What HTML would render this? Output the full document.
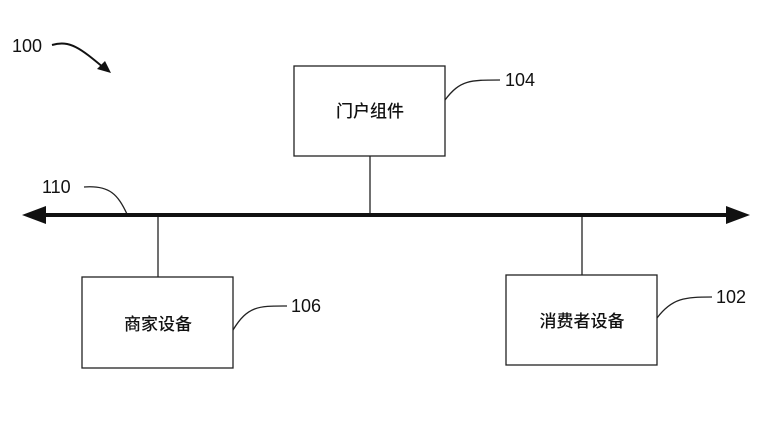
<!DOCTYPE html>
<html><head><meta charset="utf-8"><style>
html,body{margin:0;padding:0;background:#fff;}
svg{display:block;}
text{font-family:"Liberation Sans",sans-serif;fill:#111;}
.c{font-family:"Liberation Sans","Noto Sans CJK SC",sans-serif;font-size:17px;font-weight:500;}
</style></head><body>
<svg width="774" height="426" viewBox="0 0 774 426">
<g stroke="#222" fill="none" stroke-width="1.3">
<rect x="294" y="66" width="151" height="90"/>
<rect x="82" y="277" width="151" height="91"/>
<rect x="506" y="275" width="151" height="90"/>
<line x1="370" y1="156" x2="370" y2="215"/>
<line x1="158" y1="215" x2="158" y2="277"/>
<line x1="582" y1="215" x2="582" y2="275"/>
<path d="M84,187 C110,185 118,195 127,214"/>
<path d="M445,100 C460,80 470,80 500,80"/>
<path d="M233,330 C248,305 260,306 287,306"/>
<path d="M657,318 C672,298 685,297 712,297"/>
</g>
<line x1="40" y1="215" x2="730" y2="215" stroke="#111" stroke-width="4"/>
<polygon points="22,215 46,206 46,224" fill="#111"/>
<polygon points="750,215 726,206 726,224" fill="#111"/>
<path d="M52,45 C70,40 80,48 104,68" stroke="#111" stroke-width="2" fill="none"/>
<polygon points="111,73 97,69 105,61" fill="#111"/>
<text x="12" y="52" font-size="18">100</text>
<text x="42" y="193" font-size="18">110</text>
<text x="505" y="86" font-size="18">104</text>
<text x="291" y="312" font-size="18">106</text>
<text x="716" y="303" font-size="18">102</text>
<text class="c" x="370" y="117" text-anchor="middle">门户组件</text>
<text class="c" x="158" y="330" text-anchor="middle">商家设备</text>
<text class="c" x="582" y="327" text-anchor="middle">消费者设备</text>
</svg>
</body></html>
